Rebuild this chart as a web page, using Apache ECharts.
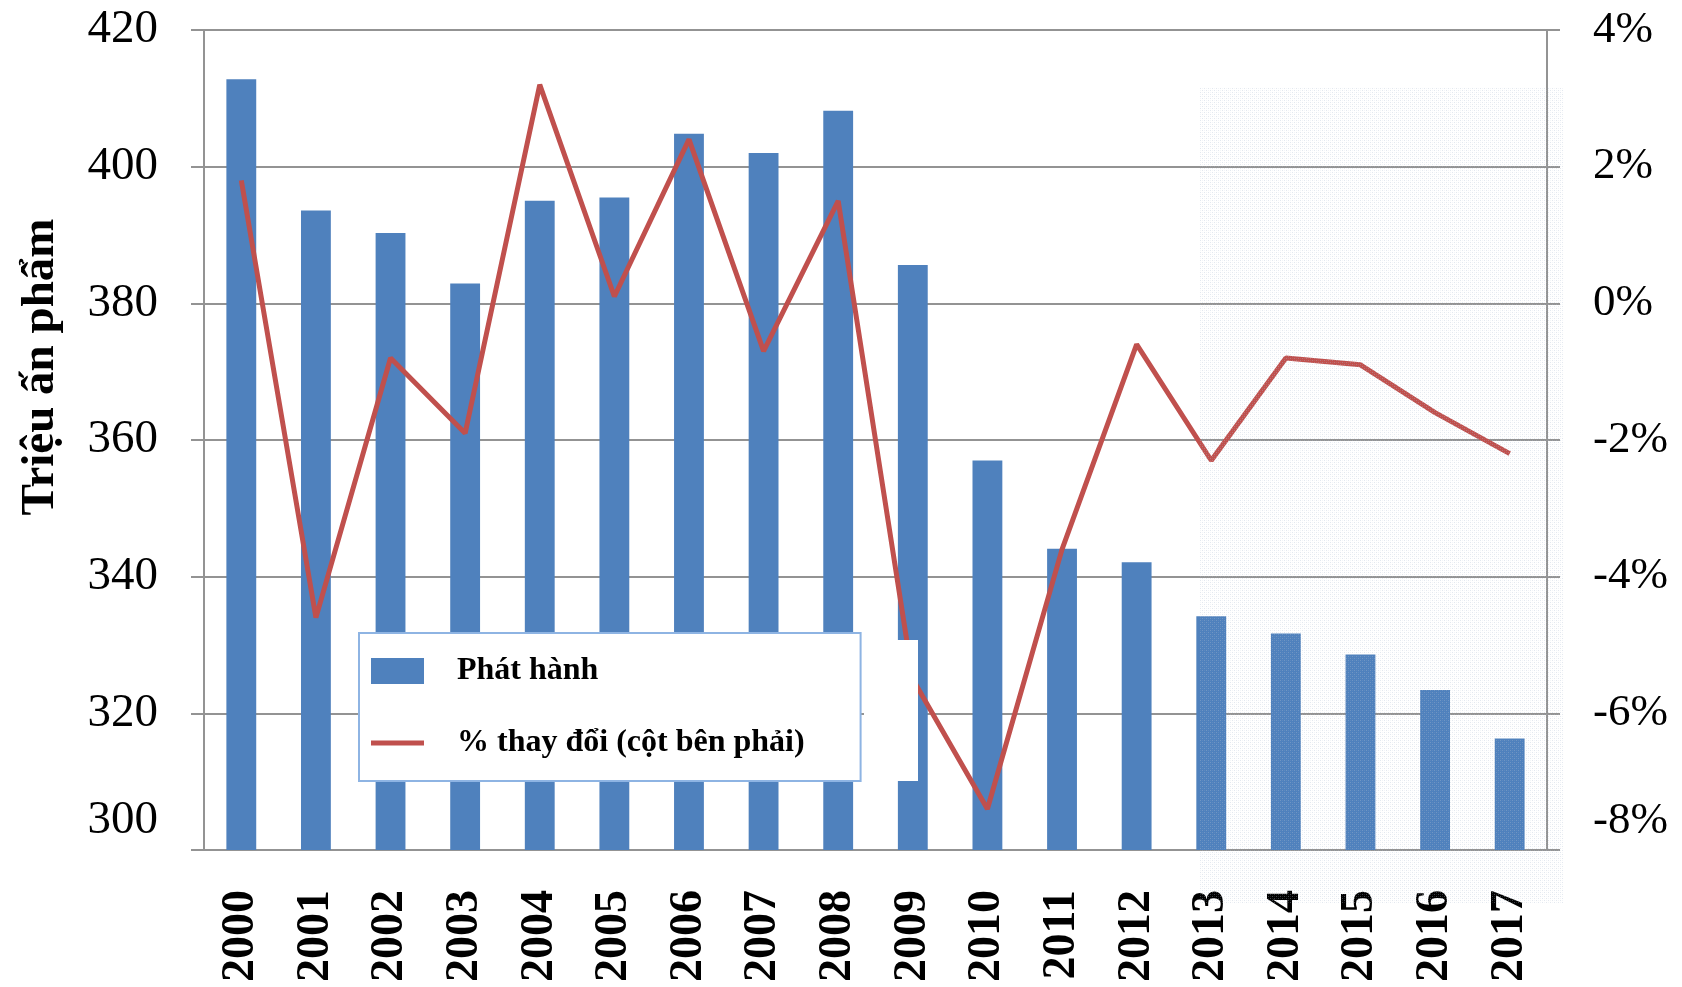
<!DOCTYPE html>
<html>
<head>
<meta charset="utf-8">
<script src="https://cdn.jsdelivr.net/npm/echarts@6/dist/echarts.min.js"></script>
<style>
  html, body { margin: 0; padding: 0; background: #fff; }
  #chart { width: 1682px; height: 987px; }
</style>
</head>
<body>
<div id="chart"></div>
<script>
// dữ liệu
var years = ["2000", "2001", "2002", "2003", "2004", "2005", "2006", "2007", "2008",
  "2009", "2010", "2011", "2012", "2013", "2014", "2015", "2016", "2017"];
var issued = [412.8, 393.6, 390.3, 382.9, 395.0, 395.5, 404.8, 402.0, 408.2,
  385.6, 357.0, 344.1, 342.1, 334.2, 331.7, 328.6, 323.4, 316.3];
var changePct = [1.8, -4.6, -0.8, -1.9, 3.2, 0.1, 2.4, -0.7, 1.5,
  -5.5, -7.4, -3.6, -0.6, -2.3, -0.8, -0.9, -1.6, -2.2];
var leftTicks = [300, 320, 340, 360, 380, 400, 420];
var rightTicks = [-8, -6, -4, -2, 0, 2, 4];

var serif = "Liberation Serif";
var gray = "#939393";

// họa tiết chấm mờ cho vùng dự báo
var dots = document.createElement("canvas");
dots.width = 4;
dots.height = 4;
var dctx = dots.getContext("2d");
dctx.fillStyle = "rgba(175,188,208,0.35)";
dctx.fillRect(0, 0, 1, 1);
dctx.fillRect(2, 2, 1, 1);
dctx.fillStyle = "rgba(175,188,208,0.15)";
dctx.fillRect(2, 0, 1, 1);
dctx.fillRect(0, 2, 1, 1);

var myChart = echarts.init(document.getElementById("chart"));

var option = {
  animation: false,
  grid: { left: 204, right: 135, top: 30, bottom: 137 },
  legend: {
    orient: "vertical",
    left: 359,
    top: 633,
    padding: [22, 56, 22, 12],
    itemGap: 40,
    itemWidth: 53,
    itemHeight: 26,
    symbolKeepAspect: true,
    backgroundColor: "#fff",
    borderColor: "#8eb4e3",
    borderWidth: 2,
    textStyle: {
      fontFamily: serif,
      fontWeight: "bold",
      fontSize: 32,
      color: "#000",
      padding: [0, 0, 0, 28],
    },
    data: [
      { name: "Phát hành", icon: "rect" },
      { name: "% thay đổi (cột bên phải)", icon: "path://M0,0L53,0L53,5L0,5Z" },
    ],
  },
  xAxis: {
    type: "category",
    data: years,
    axisLine: { lineStyle: { color: gray, width: 2 } },
    axisTick: { length: 14, lineStyle: { color: gray, width: 2 } },
    axisLabel: {
      rotate: 90,
      margin: 40,
      fontFamily: serif,
      fontWeight: "bold",
      fontSize: 46,
      color: "#000",
    },
  },
  yAxis: [
    {
      type: "value",
      min: leftTicks[0],
      max: leftTicks[leftTicks.length - 1],
      interval: leftTicks[1] - leftTicks[0],
      name: "Triệu ấn phẩm",
      nameLocation: "middle",
      nameGap: 140,
      nameTextStyle: {
        fontFamily: serif,
        fontWeight: "bold",
        fontSize: 47,
        color: "#000",
        padding: [0, 0, 0, 146],
      },
      axisLine: { show: true, lineStyle: { color: gray, width: 2 } },
      axisTick: { show: true, length: 13, lineStyle: { color: gray, width: 2 } },
      splitLine: { lineStyle: { color: gray, width: 2 } },
      axisLabel: {
        margin: 46,
        fontFamily: serif,
        fontSize: 47,
        color: "#000",
        formatter: function (v) {
          return v === leftTicks[0] ? "{low|" + v + "}" : String(v);
        },
        rich: { low: { padding: [0, 0, 58, 0], fontFamily: serif, fontSize: 47 } },
      },
    },
    {
      type: "value",
      min: rightTicks[0],
      max: rightTicks[rightTicks.length - 1],
      interval: rightTicks[1] - rightTicks[0],
      axisLine: { show: true, lineStyle: { color: gray, width: 2 } },
      axisTick: { show: true, length: 13, lineStyle: { color: gray, width: 2 } },
      splitLine: { show: false },
      axisLabel: {
        margin: 46,
        fontFamily: serif,
        fontSize: 45,
        color: "#000",
        formatter: function (v) {
          return v === rightTicks[0] ? "{low|" + v + "%}" : v + "%";
        },
        rich: { low: { padding: [0, 0, 58, 0], fontFamily: serif, fontSize: 45 } },
      },
    },
  ],
  series: [
    {
      name: "Phát hành",
      type: "bar",
      barWidth: "40%",
      itemStyle: { color: "#4f81bd" },
      data: issued,
    },
    {
      name: "% thay đổi (cột bên phải)",
      type: "line",
      yAxisIndex: 1,
      symbol: "none",
      color: "#c0504d",
      lineStyle: { color: "#c0504d", width: 5 },
      data: changePct,
      z: 3,
    },
  ],
  graphic: [
    // vùng dự báo tô chấm nhạt
    {
      type: "rect",
      z: 100,
      silent: true,
      shape: { x: 1199, y: 88, width: 365, height: 816 },
      style: { fill: { image: dots, repeat: "repeat" } },
    },
    // mảng trắng cạnh chú thích
    {
      type: "rect",
      z: 100,
      silent: true,
      shape: { x: 864, y: 640, width: 54, height: 141 },
      style: { fill: "#fff" },
    },
  ],
};

myChart.setOption(option);
window.addEventListener("resize", myChart.resize);
</script>
</body>
</html>
